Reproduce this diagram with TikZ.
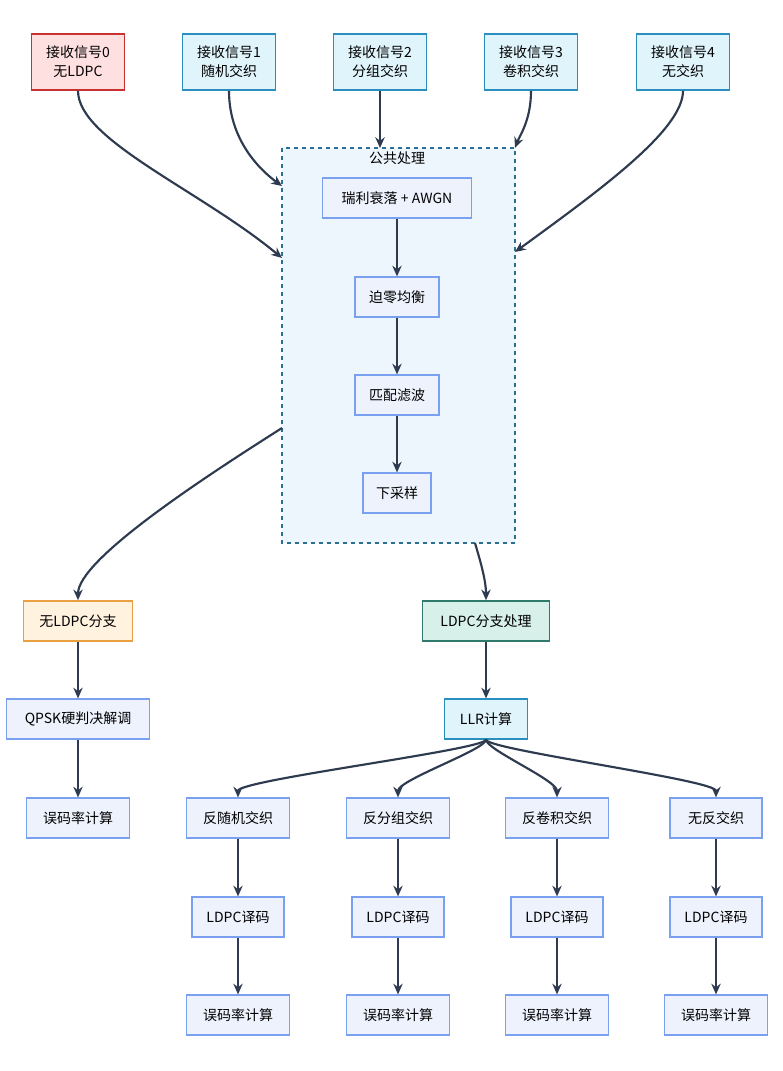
\documentclass[tikz,border=0pt]{standalone}
\usepackage{fontspec}
\setmainfont{Noto Sans CJK SC}
\usetikzlibrary{arrows.meta}
\definecolor{arr}{HTML}{2D3A4F}
\definecolor{nb}{HTML}{EEF2FD}\definecolor{nd}{HTML}{7AA0F0}
\definecolor{rb}{HTML}{FFE0E0}\definecolor{rd}{HTML}{C83232}
\definecolor{bb}{HTML}{E0F4FC}\definecolor{bd}{HTML}{2A8FBF}
\definecolor{ob}{HTML}{FFF3E0}\definecolor{od}{HTML}{E8A040}
\definecolor{gb}{HTML}{D8F0EA}\definecolor{gd}{HTML}{2F7A6A}
\definecolor{cb}{HTML}{EEF6FD}\definecolor{cd}{HTML}{2A7090}
\begin{document}
\begin{tikzpicture}[x=0.75pt,y=-0.75pt,
  every node/.style={font=\fontsize{10.5}{14}\selectfont, align=center, inner sep=0pt},
  box/.style={draw=nd,fill=nb,line width=0.9pt,minimum height=30pt},
  top/.style={draw=bd,fill=bb,line width=1.2pt,minimum width=70pt,minimum height=42pt},
  ar/.style={draw=arr,line width=1.6pt,-{Stealth[length=8pt,width=7pt]}}]
\useasboundingbox (0,0) rectangle (782,1071);
\fill[white] (0,0) rectangle (782,1071);
\node[top,draw=rd,fill=rb] (t0) at (78,62) {接收信号0\\无LDPC};
\node[top] (t1) at (229,62) {接收信号1\\随机交织};
\node[top] (t2) at (380,62) {接收信号2\\分组交织};
\node[top] (t3) at (531,62) {接收信号3\\卷积交织};
\node[top] (t4) at (683,62) {接收信号4\\无交织};
\draw[cd,fill=cb,dashed,line width=1.1pt] (282,148) rectangle (515,543);
\coordinate (cl1) at (282,258); \coordinate (cl2) at (282,186);
\coordinate (ct2) at (380,148); \coordinate (ct3) at (515,148);
\coordinate (cr4) at (515,252); \coordinate (cl3) at (282,428);
\coordinate (cb1) at (475,543);
\node (lab) at (397,158) {公共处理};
\node[box,minimum width=112pt] (a) at (397,198) {瑞利衰落 + AWGN};
\node[box,minimum width=63pt] (b) at (397,297) {迫零均衡};
\node[box,minimum width=63pt] (c) at (397,395) {匹配滤波};
\node[box,minimum width=51pt] (d) at (397,493) {下采样};
\node[box,draw=od,fill=ob,line width=1.2pt,minimum width=82pt] (n1) at (78,621) {无LDPC分支};
\node[box,draw=gd,fill=gb,line width=1.2pt,minimum width=95pt] (l1) at (486,621) {LDPC分支处理};
\node[box,minimum width=107pt] (q) at (78,719) {QPSK硬判决解调};
\node[box,minimum width=77pt] (e0) at (78,818) {误码率计算};
\node[box,draw=bd,fill=bb,minimum width=62pt] (llr) at (486,719) {LLR计算};
\foreach \x/\t/\w [count=\i] in {238/反随机交织/77,398/反分组交织/77,557/反卷积交织/77,716/无反交织/69}{
  \node[box,minimum width=\w pt] (r\i) at (\x,818) {\t};
  \node[box,minimum width=69pt] (p\i) at (\x,917) {LDPC译码};
  \node[box,minimum width=77pt] (s\i) at (\x,1015) {误码率计算};
  \draw[ar] (r\i) -- (p\i); \draw[ar] (p\i) -- (s\i);
  \draw[ar] (llr.south) .. controls +(0,10) and (\x,780) .. (r\i.north);
}
\draw[ar] (t0.south) .. controls (78,140) and (200,190) .. (cl1);
\draw[ar] (t1.south) .. controls (229,140) and (260,170) .. (cl2);
\draw[ar] (t2.south) .. controls (380,110) .. (ct2);
\draw[ar] (t3.south) .. controls (531,120) and (520,135) .. (ct3);
\draw[ar] (t4.south) .. controls (683,130) and (600,190) .. (cr4);
\draw[ar] (a) -- (b); \draw[ar] (b) -- (c); \draw[ar] (c) -- (d);
\draw[ar] (cl3) .. controls (200,480) and (78,560) .. (n1.north);
\draw[ar] (cb1) .. controls (480,560) and (486,580) .. (l1.north);
\draw[ar] (n1) -- (q); \draw[ar] (q) -- (e0); \draw[ar] (l1) -- (llr);
\end{tikzpicture}
\end{document}
